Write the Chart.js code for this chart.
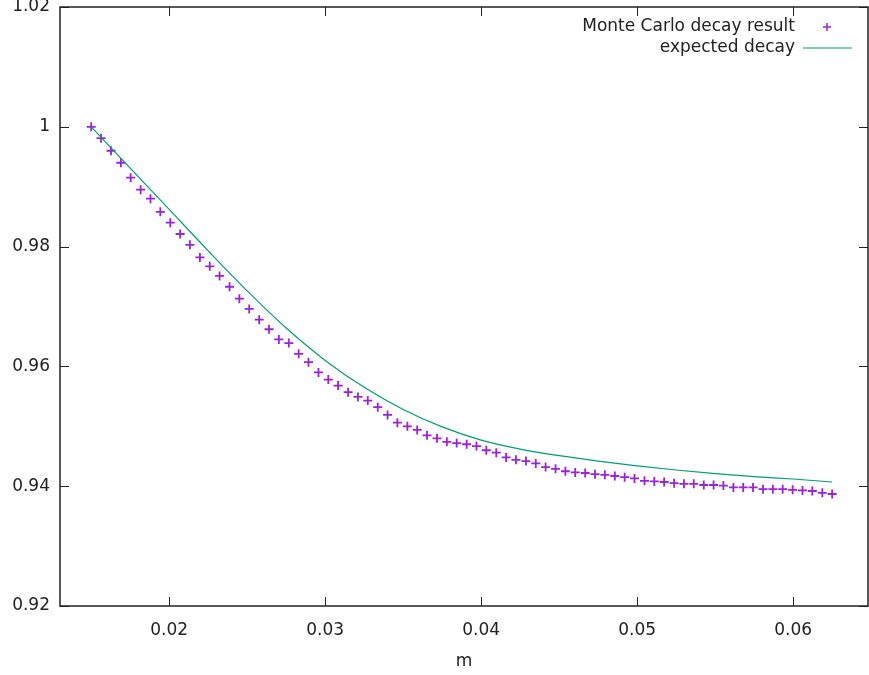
<!DOCTYPE html>
<html>
<head>
<meta charset="utf-8">
<script src="https://cdn.jsdelivr.net/npm/chart.js@4/dist/chart.umd.min.js"></script>
<style>
  body { margin: 0; background: #fff; }
  canvas { display: block; }
</style>
</head>
<body>
<canvas id="chart" width="869" height="675"></canvas>
<script>
// Monte Carlo points (m, decay)
const mValues = [
  0.01500, 0.01563, 0.01627, 0.01690, 0.01753, 0.01817, 0.01880, 0.01943, 0.02007, 0.02070,
  0.02133, 0.02197, 0.02260, 0.02323, 0.02387, 0.02450, 0.02513, 0.02577, 0.02640, 0.02703,
  0.02767, 0.02830, 0.02893, 0.02957, 0.03020, 0.03083, 0.03147, 0.03210, 0.03273, 0.03337,
  0.03400, 0.03463, 0.03527, 0.03590, 0.03653, 0.03717, 0.03780, 0.03843, 0.03907, 0.03970,
  0.04033, 0.04097, 0.04160, 0.04223, 0.04287, 0.04350, 0.04413, 0.04477, 0.04540, 0.04603,
  0.04667, 0.04730, 0.04793, 0.04857, 0.04920, 0.04983, 0.05047, 0.05110, 0.05173, 0.05237,
  0.05300, 0.05363, 0.05427, 0.05490, 0.05553, 0.05617, 0.05680, 0.05743, 0.05807, 0.05870,
  0.05933, 0.05997, 0.06060, 0.06123, 0.06187, 0.06250
];
const mcDecay = [
  1.0000, 0.9981, 0.9960, 0.9940, 0.9915, 0.9895, 0.9880, 0.9858, 0.9840, 0.9821,
  0.9803, 0.9782, 0.9767, 0.9751, 0.9733, 0.9713, 0.9696, 0.9678, 0.9662, 0.9645,
  0.9639, 0.9621, 0.9607, 0.9590, 0.9578, 0.9568, 0.9557, 0.9549, 0.9543, 0.9532,
  0.9519, 0.9506, 0.9500, 0.9494, 0.9485, 0.9480, 0.9474, 0.9472, 0.9470, 0.9467,
  0.9460, 0.9456, 0.9448, 0.9444, 0.9442, 0.9438, 0.9432, 0.9429, 0.9425, 0.9423,
  0.9422, 0.9420, 0.9419, 0.9417, 0.9415, 0.9413, 0.9409, 0.9408, 0.9407, 0.9405,
  0.9404, 0.9404, 0.9402, 0.9402, 0.9401, 0.9398, 0.9398, 0.9398, 0.9395, 0.9395,
  0.9395, 0.9394, 0.9393, 0.9392, 0.9389, 0.9387
];

// expected decay curve
const curveM = [
  0.015, 0.0175, 0.02, 0.0225, 0.025, 0.0275, 0.03, 0.0325, 0.035, 0.0375,
  0.04, 0.0425, 0.045, 0.0475, 0.05, 0.0525, 0.055, 0.0575, 0.06, 0.0625
];
const curveDecay = [
  1.0000, 0.9931, 0.9862, 0.9793, 0.9726, 0.9664, 0.9610, 0.9565, 0.9528, 0.9499,
  0.9477, 0.9462, 0.9451, 0.9442, 0.9434, 0.9427, 0.9421, 0.9416, 0.9412, 0.9407
];

const xTicks = [0.02, 0.03, 0.04, 0.05, 0.06];
const xTickLabels = ["0.02", "0.03", "0.04", "0.05", "0.06"];
const yTicks = [0.92, 0.94, 0.96, 0.98, 1.0, 1.02];
const yTickLabels = ["0.92", "0.94", "0.96", "0.98", "1", "1.02"];

const pointColor = "#9a22dc";
const lineColor = "#009e73";
const inkColor = "#222";

Chart.defaults.font.family = "'DejaVu Sans', sans-serif";
Chart.defaults.font.size = 17;
Chart.defaults.color = inkColor;

// gnuplot style frame, inward mirrored ticks and key
const gnuFrame = {
  id: "gnuFrame",
  afterDraw(chart) {
    const { ctx, chartArea: a, scales } = chart;
    const tick = 9;
    ctx.save();
    ctx.strokeStyle = inkColor;
    ctx.lineWidth = 1;
    ctx.beginPath();
    scales.y.ticks.forEach((t) => {
      const py = Math.round(scales.y.getPixelForValue(t.value)) + 0.5;
      ctx.moveTo(a.left, py); ctx.lineTo(a.left + tick, py);
      ctx.moveTo(a.right, py); ctx.lineTo(a.right - tick, py);
    });
    scales.x.ticks.forEach((t) => {
      const px = Math.round(scales.x.getPixelForValue(t.value)) + 0.5;
      ctx.moveTo(px, a.bottom); ctx.lineTo(px, a.bottom - tick);
      ctx.moveTo(px, a.top); ctx.lineTo(px, a.top + tick);
    });
    ctx.stroke();

    ctx.lineWidth = 1.5;
    ctx.strokeRect(a.left, a.top, a.right - a.left, a.bottom - a.top);

    // key
    const ds = chart.data.datasets;
    ctx.font = "17px 'DejaVu Sans', sans-serif";
    ctx.fillStyle = inkColor;
    ctx.textAlign = "right";
    ctx.textBaseline = "middle";
    const textRight = 795;
    const rows = [27, 48];

    ctx.fillText(ds[0].label, textRight, rows[0]);
    ctx.strokeStyle = pointColor;
    ctx.lineWidth = 1.5;
    ctx.beginPath();
    ctx.moveTo(827, rows[0] - 4); ctx.lineTo(827, rows[0] + 4);
    ctx.moveTo(823, rows[0]); ctx.lineTo(831, rows[0]);
    ctx.stroke();

    ctx.fillText(ds[1].label, textRight, rows[1]);
    ctx.strokeStyle = lineColor;
    ctx.lineWidth = 1.2;
    ctx.beginPath();
    ctx.moveTo(803, rows[1]); ctx.lineTo(852, rows[1]);
    ctx.stroke();
    ctx.restore();
  },
};

const ctx = document.getElementById("chart");

new Chart(ctx, {
  type: "scatter",
  data: {
    datasets: [
      {
        label: "Monte Carlo decay result",
        data: mValues.map((m, i) => ({ x: m, y: mcDecay[i] })),
        pointStyle: "cross",
        pointRadius: 4.5,
        pointBorderWidth: 1.8,
        borderColor: pointColor,
        backgroundColor: pointColor,
        showLine: false,
        order: 1,
      },
      {
        label: "expected decay",
        data: curveM.map((m, i) => ({ x: m, y: curveDecay[i] })),
        showLine: true,
        pointRadius: 0,
        borderColor: lineColor,
        borderWidth: 1.2,
        cubicInterpolationMode: "monotone",
        order: 0,
      },
    ],
  },
  options: {
    responsive: false,
    animation: false,
    layout: { autoPadding: false, padding: { top: 7, right: 1, left: 0, bottom: 0 } },
    plugins: {
      legend: { display: false },
      tooltip: { enabled: false },
    },
    scales: {
      x: {
        type: "linear",
        min: 0.013,
        max: 0.0648,
        grid: { display: false, drawTicks: false },
        border: { display: false },
        afterBuildTicks: (s) => { s.ticks = xTicks.map((v) => ({ value: v })); },
        afterFit: (s) => { s.height = 69; s.paddingLeft = 0; s.paddingRight = 0; },
        ticks: {
          padding: 14,
          maxRotation: 0,
          callback: (v, i) => xTickLabels[i],
        },
        title: {
          display: true,
          text: "m",
          padding: { top: 0, bottom: 3 },
        },
      },
      y: {
        min: 0.92,
        max: 1.02,
        grid: { display: false, drawTicks: false },
        border: { display: false },
        afterBuildTicks: (s) => { s.ticks = yTicks.map((v) => ({ value: v })); },
        afterFit: (s) => { s.width = 60; s.paddingTop = 0; s.paddingBottom = 0; },
        ticks: {
          padding: 10,
          callback: (v, i) => yTickLabels[i],
        },
      },
    },
  },
  plugins: [gnuFrame],
});
</script>
</body>
</html>
